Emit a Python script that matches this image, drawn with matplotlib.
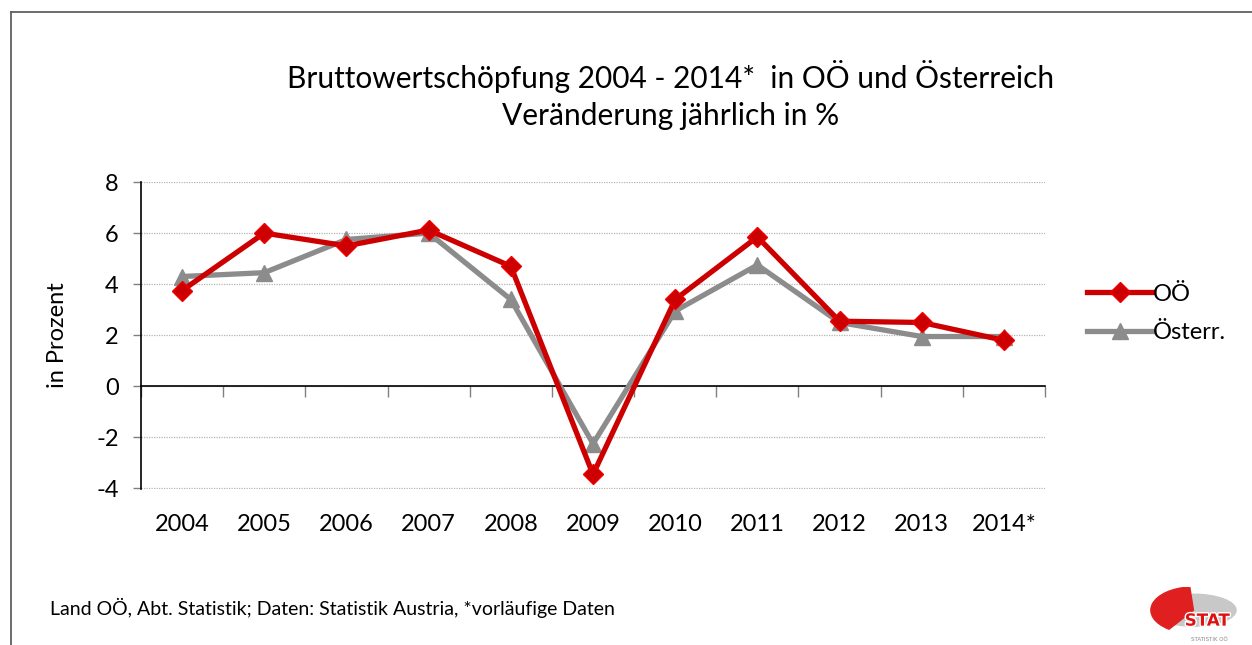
import numpy as np
import matplotlib.pyplot as plt
from matplotlib.lines import Line2D
from matplotlib.patches import Ellipse, Wedge
import matplotlib.patheffects as pe
import matplotlib.transforms as mtransforms

plt.rcParams['font.family'] = ['Lato', 'DejaVu Sans']

years = ['2004', '2005', '2006', '2007', '2008', '2009', '2010', '2011', '2012', '2013', '2014*']
ooe = [3.75, 6.0, 5.5, 6.12, 4.7, -3.45, 3.4, 5.85, 2.55, 2.5, 1.8]
oesterr = [4.3, 4.45, 5.75, 6.0, 3.4, -2.25, 2.95, 4.75, 2.5, 1.95, 1.95]
yticks = [-4, -2, 0, 2, 4, 6, 8]

RED = '#cc0000'
GRAY = '#8c8c8c'

fig = plt.figure(figsize=(12.52, 6.45), dpi=100)
ax = fig.add_axes([0.1126, 0.2419, 0.7221, 0.4759])

x = np.arange(len(years))
ax.plot(x, ooe, color=RED, lw=3.8, marker='D', ms=10, mfc=RED, mec='#ee0000', mew=1,
        label='OÖ', zorder=4)
ax.plot(x, oesterr, color=GRAY, lw=3.8, marker='^', ms=12, mfc=GRAY, mec=GRAY,
        label='Österr.', zorder=3)

ax.set_xlim(-0.5, len(years) - 0.5)
ax.set_ylim(-4.02, 8)
ax.set_yticks(yticks)
ax.set_yticklabels([str(v) for v in yticks], fontsize=17)
ax.yaxis.grid(True, linestyle=(0, (1, 1)), color='#b4b4b4', lw=0.9)
ax.set_axisbelow(True)
ax.tick_params(axis='y', length=6, width=1, color='#808080', pad=10)

for s in ['top', 'right']:
    ax.spines[s].set_visible(False)
ax.spines['left'].set_color('black')
ax.spines['left'].set_linewidth(1.2)
ax.spines['bottom'].set_position(('data', 0))
ax.spines['bottom'].set_color('black')
ax.spines['bottom'].set_linewidth(1.2)

# tick marks between categories on the zero line, labels at the bottom
ax.set_xticks(np.arange(len(years) + 1) - 0.5)
ax.set_xticklabels([])
ax.tick_params(axis='x', length=8, width=1, color='#808080', direction='out')
trans = mtransforms.blended_transform_factory(ax.transData, ax.transAxes)
for i, lab in enumerate(years):
    ax.text(i, -0.08, lab, transform=trans, ha='center', va='top', fontsize=17)

ax.set_ylabel('in Prozent', fontsize=17, labelpad=20)

fig.text(0.5359, 0.882, 'Bruttowertschöpfung 2004 - 2014*  in OÖ und Österreich',
         ha='center', va='center', fontsize=21.5)
fig.text(0.5359, 0.82, 'Veränderung jährlich in %', ha='center', va='center', fontsize=21.5)

handles = [Line2D([], [], color=RED, lw=3.8, marker='D', ms=10, mfc=RED, mec='#ee0000'),
           Line2D([], [], color=GRAY, lw=3.8, marker='^', ms=12, mfc=GRAY, mec=GRAY)]
fig.legend(handles, ['OÖ', 'Österr.'], loc='center left', bbox_to_anchor=(0.868, 0.514),
           frameon=False, fontsize=17, handlelength=2.8, handletextpad=0.0,
           labelspacing=0.75, borderpad=0, borderaxespad=0)

fig.text(0.04, 0.058, 'Land OÖ, Abt. Statistik; Daten: Statistik Austria, *vorläufige Daten',
         ha='left', va='center', fontsize=14)

# frame lines at top and left
fig.add_artist(Line2D([0.009, 1.0], [0.981, 0.981], color='#606060', lw=1.3,
                      transform=fig.transFigure))
fig.add_artist(Line2D([0.009, 0.009], [0.0, 0.981], color='#606060', lw=1.3,
                      transform=fig.transFigure))

# simple logo
lax = fig.add_axes([0.915, 0.0, 0.085, 0.09])
lax.set_xlim(0, 1)
lax.set_ylim(0, 1)
lax.axis('off')
lax.add_patch(Ellipse((0.45, 0.6), 0.8, 0.55, color='#c8c8c8'))
lax.add_patch(Wedge((0.45, 0.6), 0.4, 95, 235, color='#e02020'))
lax.text(0.58, 0.42, 'STAT', color='#dd1111', fontsize=12, fontweight='bold',
         ha='center', va='center', family='DejaVu Sans',
         path_effects=[pe.withStroke(linewidth=2, foreground='white')])
lax.text(0.6, 0.1, 'STATISTIK OÖ', color='#888888', fontsize=4, ha='center', va='center',
         family='DejaVu Sans')

fig.savefig('out.png', dpi=100)
